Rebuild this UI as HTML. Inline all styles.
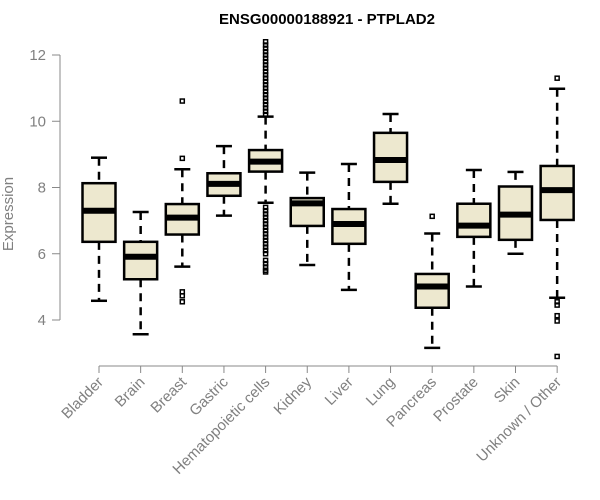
<!DOCTYPE html>
<html><head><meta charset="utf-8"><style>body{margin:0;background:#fff}svg{display:block;font-family:"Liberation Sans",sans-serif}</style></head>
<body>
<svg id="c" width="600" height="500"></svg>
<script>
const categories=["Bladder","Brain","Breast","Gastric","Hematopoietic cells","Kidney","Liver","Lung","Pancreas","Prostate","Skin","Unknown / Other"];
const whiskerLow=[4.58,3.57,5.61,7.15,7.54,5.66,4.91,7.51,3.16,5.01,6.00,4.67];
const q1=[6.36,5.23,6.58,7.75,8.48,6.84,6.30,8.17,4.37,6.51,6.42,7.02];
const medians=[7.30,5.91,7.09,8.11,8.78,7.52,6.90,8.83,5.01,6.85,7.18,7.92];
const q3=[8.13,6.36,7.50,8.43,9.13,7.68,7.35,9.65,5.39,7.51,8.03,8.65];
const whiskerHigh=[8.90,7.26,8.55,9.25,10.14,8.45,8.71,10.22,6.61,8.53,8.47,10.98];
const outliers=[[],[],[10.61,8.88,4.85,4.73,4.55],[],
[10.2,10.3,10.4,10.5,10.6,10.7,10.8,10.9,11.0,11.1,11.2,11.3,11.4,11.5,11.6,11.7,11.8,11.9,12.0,12.1,12.2,12.3,12.4,7.4,7.3,7.2,7.1,7.0,6.9,6.8,6.7,6.6,6.5,6.4,6.3,6.2,6.1,6.0,5.8,5.7,5.6,5.5,5.45],
[],[],[],[7.13],[],[],[11.30,4.55,4.45,4.13,3.97,2.90]];
const yTicks=[4,6,8,10,12];
const NS="http://www.w3.org/2000/svg",svg=document.getElementById('c');
const y=v=>320-(v-4)*33.125, x=i=>99+i*41.65;
function mk(t,a,p){const e=document.createElementNS(NS,t);for(const k in a)e.setAttribute(k,a[k]);(p||svg).appendChild(e);return e;}
const title=mk('text',{x:327,y:24,'text-anchor':'middle','font-size':15,'font-weight':'bold'});


title.textContent="ENSG00000188921 - PTPLAD2";
const ya=mk('g',{});


mk('line',{x1:60,x2:60,y1:y(4),y2:y(12),stroke:'#888'},ya);
yTicks.forEach(t=>{mk('line',{x1:52,x2:60,y1:y(t),y2:y(t),stroke:'#888'},ya);
const l=mk('text',{x:46,y:y(t)+5,'text-anchor':'end','font-size':15,fill:'#808080'},ya);


l.textContent=t;});
const yt=mk('text',{x:0,y:0,transform:`translate(13,${y(7.2)}) rotate(-90)`,'text-anchor':'middle','font-size':15,fill:'#808080'});


yt.textContent="Expression";
const xa=mk('g',{});


mk('line',{x1:x(0),x2:x(11),y1:366,y2:366,stroke:'#888'},xa);
categories.forEach((c,i)=>{mk('line',{x1:x(i),x2:x(i),y1:366,y2:373,stroke:'#888'},xa);
const l=mk('text',{x:0,y:0,transform:`translate(${x(i)+5},${383}) rotate(-45)`,'text-anchor':'end','font-size':15,fill:'#808080'},xa);


l.textContent=c;});
categories.forEach((c,i)=>{const g=mk('g',{});


const cx=x(i),w=16.5;
mk('line',{x1:cx,x2:cx,y1:y(whiskerHigh[i]),y2:y(q3[i]),stroke:'#000','stroke-width':2.5,'stroke-dasharray':'8,6'},g);
mk('line',{x1:cx,x2:cx,y1:y(q1[i]),y2:y(whiskerLow[i]),stroke:'#000','stroke-width':2.5,'stroke-dasharray':'8,6'},g);
mk('line',{x1:cx-8,x2:cx+8,y1:y(whiskerHigh[i]),y2:y(whiskerHigh[i]),stroke:'#000','stroke-width':2.5},g);
mk('line',{x1:cx-8,x2:cx+8,y1:y(whiskerLow[i]),y2:y(whiskerLow[i]),stroke:'#000','stroke-width':2.5},g);
mk('rect',{x:cx-w,y:y(q3[i]),width:2*w,height:y(q1[i])-y(q3[i]),fill:'#ede8cf',stroke:'#000','stroke-width':2.5},g);
mk('line',{x1:cx-w,x2:cx+w,y1:y(medians[i]),y2:y(medians[i]),stroke:'#000','stroke-width':6},g);
outliers[i].forEach(o=>mk('rect',{x:cx-2,y:y(o)-2,width:4,height:4,fill:'none',stroke:'#000','stroke-width':1.5},g));});
</script>
</body></html>
